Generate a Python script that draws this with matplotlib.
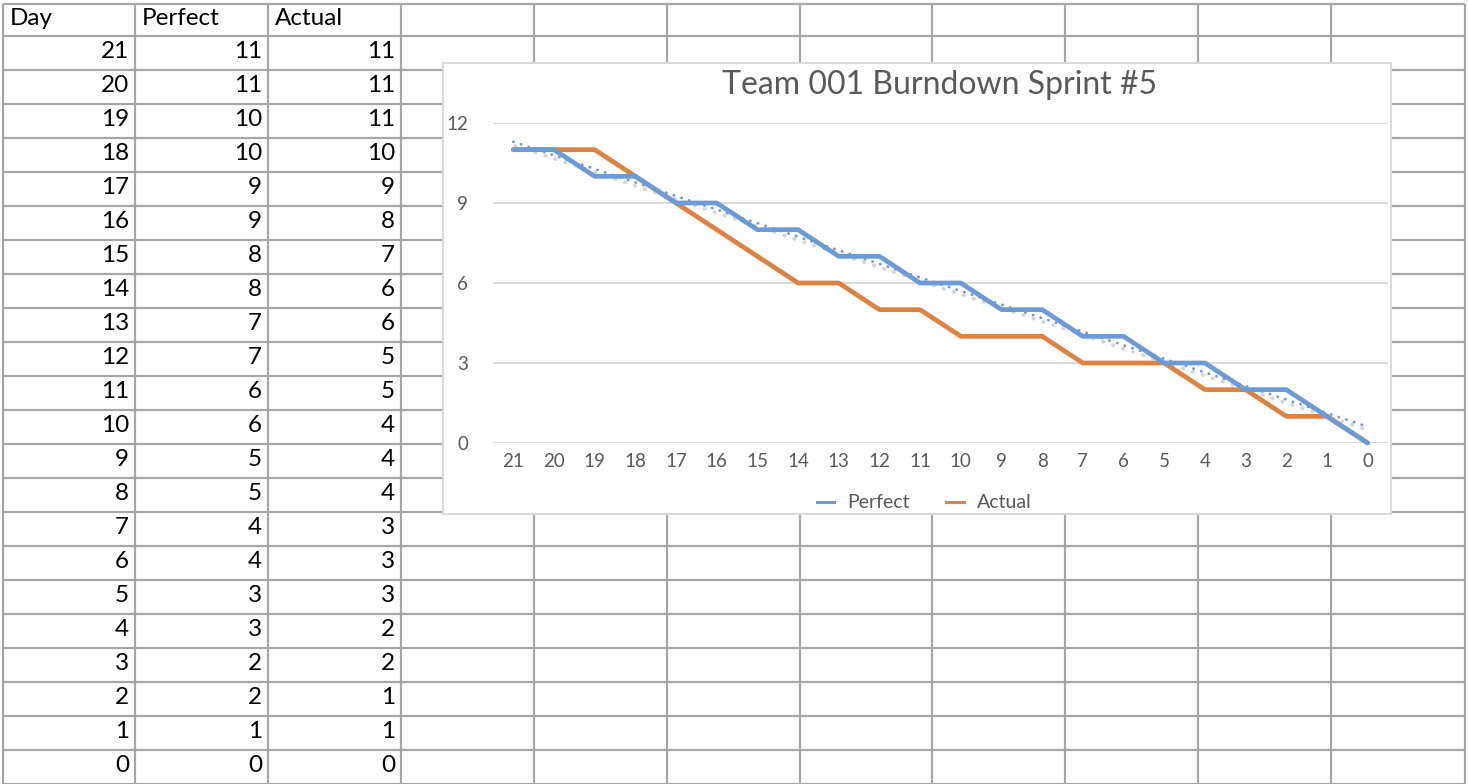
"""
Spreadsheet screenshot: burndown table on the left with an embedded line chart.
"""
import numpy as np
import matplotlib.pyplot as plt
import matplotlib.transforms as mtransforms
from matplotlib.lines import Line2D
from matplotlib.patches import Rectangle

plt.rcParams['font.family'] = ['Lato', 'DejaVu Sans']

headers = ['Day', 'Perfect', 'Actual']
days = [21, 20, 19, 18, 17, 16, 15, 14, 13, 12, 11, 10, 9, 8, 7, 6, 5, 4, 3, 2, 1, 0]
perfect = [11, 11, 10, 10, 9, 9, 8, 8, 7, 7, 6, 6, 5, 5, 4, 4, 3, 3, 2, 2, 1, 0]
actual = [11, 11, 11, 10, 9, 8, 7, 6, 6, 5, 5, 4, 4, 4, 3, 3, 3, 2, 2, 1, 1, 0]
chart_title = 'Team 001 Burndown Sprint #5'
y_ticks = [0, 3, 6, 9, 12]

W, H = 1468, 784
col_edges = [3, 135, 268, 401, 534, 667, 800, 932, 1065, 1198, 1331, 1465]
row_edges = [4] + [36 + 34 * k for k in range(23)]

grid_color = '#a6a6a6'
text_gray = '#595959'
blue = '#6a9bd7'
orange = '#e0823f'

fig = plt.figure(figsize=(W / 100, H / 100), dpi=100)
fig.patch.set_facecolor('white')

# sheet background (pixel coordinates)
sheet = fig.add_axes([0, 0, 1, 1])
sheet.set_xlim(0, W)
sheet.set_ylim(H, 0)
sheet.axis('off')

sheet.hlines(row_edges, col_edges[0], col_edges[-1], color=grid_color, lw=1.6, zorder=1)
sheet.vlines(col_edges, row_edges[0], row_edges[-1], color=grid_color, lw=1.6, zorder=1)

for j, name in enumerate(headers):
    sheet.text(col_edges[j] + 7, row_edges[1] - 11, name, fontsize=17.5,
               color='black', ha='left', va='baseline')

columns = [days, perfect, actual]
for i in range(len(days)):
    base = row_edges[i + 2] - 12
    for j, col in enumerate(columns):
        sheet.text(col_edges[j + 1] - 6, base, str(col[i]), fontsize=17.5,
                   color='black', ha='right', va='baseline')

# chart frame
sheet.add_patch(Rectangle((443, 63), 948, 451, facecolor='white',
                          edgecolor='#d9d9d9', lw=1.5, zorder=5))
sheet.text(940, 94, chart_title, fontsize=23, color=text_gray,
           ha='center', va='baseline', zorder=6)

# chart plot area
left, right, top, bottom = 493, 1388, 123, 443
ax = fig.add_axes([left / W, 1 - bottom / H, (right - left) / W, (bottom - top) / H])
ax.patch.set_alpha(0)
x = np.arange(len(days))

ax.set_xlim(-0.5, len(days) - 0.5)
ax.set_ylim(0, 12)
ax.set_yticks(y_ticks)
ax.set_xticks(x)
ax.set_xticklabels([str(d) for d in days])
for s in ax.spines.values():
    s.set_visible(False)
ax.yaxis.grid(True, color='#d9d9d9', lw=1.5)
ax.set_axisbelow(True)
ax.tick_params(axis='both', length=0, labelsize=13.5, labelcolor=text_gray)
ax.tick_params(axis='y', pad=18)
ax.tick_params(axis='x', pad=7)

# linear trendline of the Perfect series, as Excel draws it
coef = np.polyfit(x, perfect, 1)
trend = np.polyval(coef, x)
shadow_tr = mtransforms.offset_copy(ax.transData, fig=fig, x=2, y=-4, units='dots')
ax.plot(x, trend, color='#c8c8c8', lw=2.8, alpha=0.75, linestyle=(0, (0.1, 2.6)),
        dash_capstyle='round', transform=shadow_tr, zorder=2, clip_on=False)

ax.plot(x, actual, color=orange, lw=3.4, solid_capstyle='round',
        solid_joinstyle='round', zorder=3, clip_on=False)
ax.plot(x, perfect, color=blue, lw=3.4, solid_capstyle='round',
        solid_joinstyle='round', zorder=4, clip_on=False)
ax.plot(x, trend, color=blue, lw=2.0, linestyle=(0, (0.1, 2.8)),
        dash_capstyle='round', zorder=5, clip_on=False)

handles = [Line2D([], [], color=blue, lw=2.2), Line2D([], [], color=orange, lw=2.2)]
fig.legend(handles, ['Perfect', 'Actual'], loc='center', ncol=2, frameon=False,
           bbox_to_anchor=(924 / W, 1 - 503 / H), fontsize=14, labelcolor=text_gray,
           handlelength=0.9, handletextpad=0.65, columnspacing=1.9)

fig.savefig('out.png', dpi=100, facecolor='white')
